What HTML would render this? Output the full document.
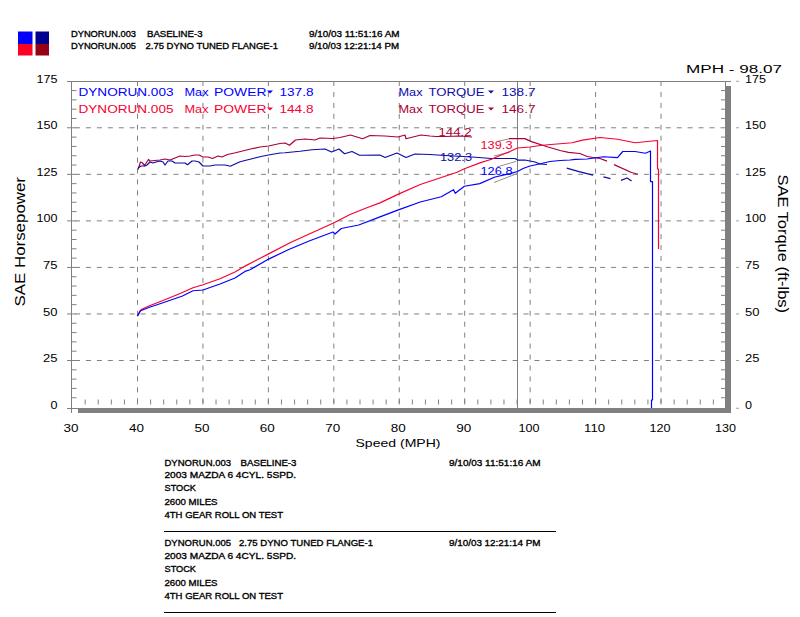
<!DOCTYPE html><html><head><meta charset="utf-8"><style>html,body{margin:0;padding:0;background:#fff;width:800px;height:617px;overflow:hidden}svg{display:block}text{font-family:"Liberation Sans",sans-serif}</style></head><body>
<svg width="800" height="617" viewBox="0 0 800 617">
<rect x="18" y="31.5" width="14.5" height="12.5" fill="#0000ff"/>
<rect x="18" y="44" width="14.5" height="11.5" fill="#ff0022"/>
<rect x="35.5" y="31.5" width="13.5" height="12.5" fill="#000090"/>
<rect x="35.5" y="44" width="13.5" height="11.5" fill="#960014"/>
<text x="71" y="37" font-size="9.4" fill="#000" stroke="#000" stroke-width="0.35" textLength="65" lengthAdjust="spacingAndGlyphs" >DYNORUN.003</text>
<text x="147" y="37" font-size="9.4" fill="#000" stroke="#000" stroke-width="0.35" textLength="55.5" lengthAdjust="spacingAndGlyphs" >BASELINE-3</text>
<text x="71" y="49" font-size="9.4" fill="#000" stroke="#000" stroke-width="0.35" textLength="65" lengthAdjust="spacingAndGlyphs" >DYNORUN.005</text>
<text x="145.5" y="49" font-size="9.4" fill="#000" stroke="#000" stroke-width="0.35" textLength="132.5" lengthAdjust="spacingAndGlyphs" >2.75 DYNO TUNED FLANGE-1</text>
<text x="309" y="37" font-size="9.4" fill="#000" stroke="#000" stroke-width="0.35" textLength="90.5" lengthAdjust="spacingAndGlyphs" >9/10/03 11:51:16 AM</text>
<text x="309" y="49" font-size="9.4" fill="#000" stroke="#000" stroke-width="0.35" textLength="90" lengthAdjust="spacingAndGlyphs" >9/10/03 12:21:14 PM</text>
<line x1="75" y1="360.5" x2="725" y2="360.5" stroke="#808080" stroke-width="1" stroke-dasharray="5 5.94"/>
<line x1="67" y1="360.5" x2="76" y2="360.5" stroke="#808080" stroke-width="1"/>
<line x1="75" y1="313.96" x2="725" y2="313.96" stroke="#808080" stroke-width="1" stroke-dasharray="5 5.94"/>
<line x1="67" y1="313.96" x2="76" y2="313.96" stroke="#808080" stroke-width="1"/>
<line x1="75" y1="267.42" x2="725" y2="267.42" stroke="#808080" stroke-width="1" stroke-dasharray="5 5.94"/>
<line x1="67" y1="267.42" x2="76" y2="267.42" stroke="#808080" stroke-width="1"/>
<line x1="75" y1="220.88" x2="725" y2="220.88" stroke="#808080" stroke-width="1" stroke-dasharray="5 5.94"/>
<line x1="67" y1="220.88" x2="76" y2="220.88" stroke="#808080" stroke-width="1"/>
<line x1="75" y1="174.33" x2="725" y2="174.33" stroke="#808080" stroke-width="1" stroke-dasharray="5 5.94"/>
<line x1="67" y1="174.33" x2="76" y2="174.33" stroke="#808080" stroke-width="1"/>
<line x1="75" y1="127.79" x2="725" y2="127.79" stroke="#808080" stroke-width="1" stroke-dasharray="5 5.94"/>
<line x1="67" y1="127.79" x2="76" y2="127.79" stroke="#808080" stroke-width="1"/>
<line x1="137.5" y1="81" x2="137.5" y2="408" stroke="#808080" stroke-width="1" stroke-dasharray="5 5.94"/>
<line x1="202.94" y1="81" x2="202.94" y2="408" stroke="#808080" stroke-width="1" stroke-dasharray="5 5.94"/>
<line x1="268.38" y1="81" x2="268.38" y2="408" stroke="#808080" stroke-width="1" stroke-dasharray="5 5.94"/>
<line x1="333.82" y1="81" x2="333.82" y2="408" stroke="#808080" stroke-width="1" stroke-dasharray="5 5.94"/>
<line x1="399.26" y1="81" x2="399.26" y2="408" stroke="#808080" stroke-width="1" stroke-dasharray="5 5.94"/>
<line x1="464.7" y1="81" x2="464.7" y2="408" stroke="#808080" stroke-width="1" stroke-dasharray="5 5.94"/>
<line x1="530.14" y1="81" x2="530.14" y2="408" stroke="#808080" stroke-width="1" stroke-dasharray="5 5.94"/>
<line x1="595.58" y1="81" x2="595.58" y2="408" stroke="#808080" stroke-width="1" stroke-dasharray="5 5.94"/>
<line x1="661.02" y1="81" x2="661.02" y2="408" stroke="#808080" stroke-width="1" stroke-dasharray="5 5.94"/>
<line x1="67" y1="81.5" x2="731" y2="81.5" stroke="#808080" stroke-width="1"/>
<line x1="71.5" y1="81" x2="71.5" y2="413" stroke="#808080" stroke-width="1"/>
<line x1="725.5" y1="81" x2="725.5" y2="87" stroke="#808080" stroke-width="1"/>
<rect x="725" y="86" width="6" height="327" fill="#808080"/>
<rect x="78" y="408" width="653" height="5" fill="#808080"/>
<line x1="67" y1="408.5" x2="78" y2="408.5" stroke="#808080" stroke-width="1"/>
<line x1="72" y1="397.74" x2="76.5" y2="397.74" stroke="#808080"/>
<line x1="721" y1="397.74" x2="725" y2="397.74" stroke="#808080"/>
<line x1="72" y1="388.43" x2="76.5" y2="388.43" stroke="#808080"/>
<line x1="721" y1="388.43" x2="725" y2="388.43" stroke="#808080"/>
<line x1="72" y1="379.12" x2="76.5" y2="379.12" stroke="#808080"/>
<line x1="721" y1="379.12" x2="725" y2="379.12" stroke="#808080"/>
<line x1="72" y1="369.81" x2="76.5" y2="369.81" stroke="#808080"/>
<line x1="721" y1="369.81" x2="725" y2="369.81" stroke="#808080"/>
<line x1="72" y1="351.2" x2="76.5" y2="351.2" stroke="#808080"/>
<line x1="721" y1="351.2" x2="725" y2="351.2" stroke="#808080"/>
<line x1="72" y1="341.89" x2="76.5" y2="341.89" stroke="#808080"/>
<line x1="721" y1="341.89" x2="725" y2="341.89" stroke="#808080"/>
<line x1="72" y1="332.58" x2="76.5" y2="332.58" stroke="#808080"/>
<line x1="721" y1="332.58" x2="725" y2="332.58" stroke="#808080"/>
<line x1="72" y1="323.27" x2="76.5" y2="323.27" stroke="#808080"/>
<line x1="721" y1="323.27" x2="725" y2="323.27" stroke="#808080"/>
<line x1="72" y1="304.65" x2="76.5" y2="304.65" stroke="#808080"/>
<line x1="721" y1="304.65" x2="725" y2="304.65" stroke="#808080"/>
<line x1="72" y1="295.35" x2="76.5" y2="295.35" stroke="#808080"/>
<line x1="721" y1="295.35" x2="725" y2="295.35" stroke="#808080"/>
<line x1="72" y1="286.04" x2="76.5" y2="286.04" stroke="#808080"/>
<line x1="721" y1="286.04" x2="725" y2="286.04" stroke="#808080"/>
<line x1="72" y1="276.73" x2="76.5" y2="276.73" stroke="#808080"/>
<line x1="721" y1="276.73" x2="725" y2="276.73" stroke="#808080"/>
<line x1="72" y1="258.11" x2="76.5" y2="258.11" stroke="#808080"/>
<line x1="721" y1="258.11" x2="725" y2="258.11" stroke="#808080"/>
<line x1="72" y1="248.8" x2="76.5" y2="248.8" stroke="#808080"/>
<line x1="721" y1="248.8" x2="725" y2="248.8" stroke="#808080"/>
<line x1="72" y1="239.49" x2="76.5" y2="239.49" stroke="#808080"/>
<line x1="721" y1="239.49" x2="725" y2="239.49" stroke="#808080"/>
<line x1="72" y1="230.19" x2="76.5" y2="230.19" stroke="#808080"/>
<line x1="721" y1="230.19" x2="725" y2="230.19" stroke="#808080"/>
<line x1="72" y1="211.57" x2="76.5" y2="211.57" stroke="#808080"/>
<line x1="721" y1="211.57" x2="725" y2="211.57" stroke="#808080"/>
<line x1="72" y1="202.26" x2="76.5" y2="202.26" stroke="#808080"/>
<line x1="721" y1="202.26" x2="725" y2="202.26" stroke="#808080"/>
<line x1="72" y1="192.95" x2="76.5" y2="192.95" stroke="#808080"/>
<line x1="721" y1="192.95" x2="725" y2="192.95" stroke="#808080"/>
<line x1="72" y1="183.64" x2="76.5" y2="183.64" stroke="#808080"/>
<line x1="721" y1="183.64" x2="725" y2="183.64" stroke="#808080"/>
<line x1="72" y1="165.03" x2="76.5" y2="165.03" stroke="#808080"/>
<line x1="721" y1="165.03" x2="725" y2="165.03" stroke="#808080"/>
<line x1="72" y1="155.72" x2="76.5" y2="155.72" stroke="#808080"/>
<line x1="721" y1="155.72" x2="725" y2="155.72" stroke="#808080"/>
<line x1="72" y1="146.41" x2="76.5" y2="146.41" stroke="#808080"/>
<line x1="721" y1="146.41" x2="725" y2="146.41" stroke="#808080"/>
<line x1="72" y1="137.1" x2="76.5" y2="137.1" stroke="#808080"/>
<line x1="721" y1="137.1" x2="725" y2="137.1" stroke="#808080"/>
<line x1="72" y1="118.48" x2="76.5" y2="118.48" stroke="#808080"/>
<line x1="721" y1="118.48" x2="725" y2="118.48" stroke="#808080"/>
<line x1="72" y1="109.18" x2="76.5" y2="109.18" stroke="#808080"/>
<line x1="721" y1="109.18" x2="725" y2="109.18" stroke="#808080"/>
<line x1="72" y1="99.87" x2="76.5" y2="99.87" stroke="#808080"/>
<line x1="721" y1="99.87" x2="725" y2="99.87" stroke="#808080"/>
<line x1="72" y1="90.56" x2="76.5" y2="90.56" stroke="#808080"/>
<line x1="721" y1="90.56" x2="725" y2="90.56" stroke="#808080"/>
<line x1="85.15" y1="399.5" x2="85.15" y2="404.5" stroke="#808080"/>
<line x1="98.24" y1="399.5" x2="98.24" y2="404.5" stroke="#808080"/>
<line x1="111.32" y1="399.5" x2="111.32" y2="404.5" stroke="#808080"/>
<line x1="124.41" y1="399.5" x2="124.41" y2="404.5" stroke="#808080"/>
<line x1="137.5" y1="399.5" x2="137.5" y2="404.5" stroke="#808080"/>
<line x1="150.59" y1="399.5" x2="150.59" y2="404.5" stroke="#808080"/>
<line x1="163.68" y1="399.5" x2="163.68" y2="404.5" stroke="#808080"/>
<line x1="176.76" y1="399.5" x2="176.76" y2="404.5" stroke="#808080"/>
<line x1="189.85" y1="399.5" x2="189.85" y2="404.5" stroke="#808080"/>
<line x1="202.94" y1="399.5" x2="202.94" y2="404.5" stroke="#808080"/>
<line x1="216.03" y1="399.5" x2="216.03" y2="404.5" stroke="#808080"/>
<line x1="229.12" y1="399.5" x2="229.12" y2="404.5" stroke="#808080"/>
<line x1="242.2" y1="399.5" x2="242.2" y2="404.5" stroke="#808080"/>
<line x1="255.29" y1="399.5" x2="255.29" y2="404.5" stroke="#808080"/>
<line x1="268.38" y1="399.5" x2="268.38" y2="404.5" stroke="#808080"/>
<line x1="281.47" y1="399.5" x2="281.47" y2="404.5" stroke="#808080"/>
<line x1="294.56" y1="399.5" x2="294.56" y2="404.5" stroke="#808080"/>
<line x1="307.64" y1="399.5" x2="307.64" y2="404.5" stroke="#808080"/>
<line x1="320.73" y1="399.5" x2="320.73" y2="404.5" stroke="#808080"/>
<line x1="333.82" y1="399.5" x2="333.82" y2="404.5" stroke="#808080"/>
<line x1="346.91" y1="399.5" x2="346.91" y2="404.5" stroke="#808080"/>
<line x1="360.0" y1="399.5" x2="360.0" y2="404.5" stroke="#808080"/>
<line x1="373.08" y1="399.5" x2="373.08" y2="404.5" stroke="#808080"/>
<line x1="386.17" y1="399.5" x2="386.17" y2="404.5" stroke="#808080"/>
<line x1="399.26" y1="399.5" x2="399.26" y2="404.5" stroke="#808080"/>
<line x1="412.35" y1="399.5" x2="412.35" y2="404.5" stroke="#808080"/>
<line x1="425.44" y1="399.5" x2="425.44" y2="404.5" stroke="#808080"/>
<line x1="438.52" y1="399.5" x2="438.52" y2="404.5" stroke="#808080"/>
<line x1="451.61" y1="399.5" x2="451.61" y2="404.5" stroke="#808080"/>
<line x1="464.7" y1="399.5" x2="464.7" y2="404.5" stroke="#808080"/>
<line x1="477.79" y1="399.5" x2="477.79" y2="404.5" stroke="#808080"/>
<line x1="490.88" y1="399.5" x2="490.88" y2="404.5" stroke="#808080"/>
<line x1="503.96" y1="399.5" x2="503.96" y2="404.5" stroke="#808080"/>
<line x1="517.05" y1="399.5" x2="517.05" y2="404.5" stroke="#808080"/>
<line x1="530.14" y1="399.5" x2="530.14" y2="404.5" stroke="#808080"/>
<line x1="543.23" y1="399.5" x2="543.23" y2="404.5" stroke="#808080"/>
<line x1="556.32" y1="399.5" x2="556.32" y2="404.5" stroke="#808080"/>
<line x1="569.4" y1="399.5" x2="569.4" y2="404.5" stroke="#808080"/>
<line x1="582.49" y1="399.5" x2="582.49" y2="404.5" stroke="#808080"/>
<line x1="595.58" y1="399.5" x2="595.58" y2="404.5" stroke="#808080"/>
<line x1="608.67" y1="399.5" x2="608.67" y2="404.5" stroke="#808080"/>
<line x1="621.76" y1="399.5" x2="621.76" y2="404.5" stroke="#808080"/>
<line x1="634.84" y1="399.5" x2="634.84" y2="404.5" stroke="#808080"/>
<line x1="647.93" y1="399.5" x2="647.93" y2="404.5" stroke="#808080"/>
<line x1="661.02" y1="399.5" x2="661.02" y2="404.5" stroke="#808080"/>
<line x1="674.11" y1="399.5" x2="674.11" y2="404.5" stroke="#808080"/>
<line x1="687.2" y1="399.5" x2="687.2" y2="404.5" stroke="#808080"/>
<line x1="700.28" y1="399.5" x2="700.28" y2="404.5" stroke="#808080"/>
<line x1="713.37" y1="399.5" x2="713.37" y2="404.5" stroke="#808080"/>
<text x="50.5" y="409" font-size="11" fill="#000" textLength="7" lengthAdjust="spacingAndGlyphs" >0</text>
<text x="745" y="409" font-size="11" fill="#000" textLength="7" lengthAdjust="spacingAndGlyphs" >0</text>
<line x1="736" y1="408.25" x2="739" y2="408.25" stroke="#a0a0a0"/>
<text x="43.0" y="362.105" font-size="11" fill="#000" textLength="14.5" lengthAdjust="spacingAndGlyphs" >25</text>
<text x="745" y="362.105" font-size="11" fill="#000" textLength="14.5" lengthAdjust="spacingAndGlyphs" >25</text>
<line x1="736" y1="360.5" x2="739" y2="360.5" stroke="#a0a0a0"/>
<text x="43.0" y="315.5625" font-size="11" fill="#000" textLength="14.5" lengthAdjust="spacingAndGlyphs" >50</text>
<text x="745" y="315.5625" font-size="11" fill="#000" textLength="14.5" lengthAdjust="spacingAndGlyphs" >50</text>
<line x1="736" y1="313.96" x2="739" y2="313.96" stroke="#a0a0a0"/>
<text x="43.0" y="269.02" font-size="11" fill="#000" textLength="14.5" lengthAdjust="spacingAndGlyphs" >75</text>
<text x="745" y="269.02" font-size="11" fill="#000" textLength="14.5" lengthAdjust="spacingAndGlyphs" >75</text>
<line x1="736" y1="267.42" x2="739" y2="267.42" stroke="#a0a0a0"/>
<text x="36.5" y="222.4775" font-size="11" fill="#000" textLength="21" lengthAdjust="spacingAndGlyphs" >100</text>
<text x="745" y="222.4775" font-size="11" fill="#000" textLength="21" lengthAdjust="spacingAndGlyphs" >100</text>
<line x1="736" y1="220.88" x2="739" y2="220.88" stroke="#a0a0a0"/>
<text x="36.5" y="175.93499999999997" font-size="11" fill="#000" textLength="21" lengthAdjust="spacingAndGlyphs" >125</text>
<text x="745" y="175.93499999999997" font-size="11" fill="#000" textLength="21" lengthAdjust="spacingAndGlyphs" >125</text>
<line x1="736" y1="174.33" x2="739" y2="174.33" stroke="#a0a0a0"/>
<text x="36.5" y="129.39249999999998" font-size="11" fill="#000" textLength="21" lengthAdjust="spacingAndGlyphs" >150</text>
<text x="745" y="129.39249999999998" font-size="11" fill="#000" textLength="21" lengthAdjust="spacingAndGlyphs" >150</text>
<line x1="736" y1="127.79" x2="739" y2="127.79" stroke="#a0a0a0"/>
<text x="36.5" y="82.85" font-size="11" fill="#000" textLength="21" lengthAdjust="spacingAndGlyphs" >175</text>
<text x="745" y="82.85" font-size="11" fill="#000" textLength="21" lengthAdjust="spacingAndGlyphs" >175</text>
<line x1="736" y1="81.25" x2="739" y2="81.25" stroke="#a0a0a0"/>
<text x="63.56" y="432" font-size="11" fill="#000" textLength="15" lengthAdjust="spacingAndGlyphs" >30</text>
<text x="129.0" y="432" font-size="11" fill="#000" textLength="15" lengthAdjust="spacingAndGlyphs" >40</text>
<text x="194.44" y="432" font-size="11" fill="#000" textLength="15" lengthAdjust="spacingAndGlyphs" >50</text>
<text x="259.88" y="432" font-size="11" fill="#000" textLength="15" lengthAdjust="spacingAndGlyphs" >60</text>
<text x="325.32" y="432" font-size="11" fill="#000" textLength="15" lengthAdjust="spacingAndGlyphs" >70</text>
<text x="390.76" y="432" font-size="11" fill="#000" textLength="15" lengthAdjust="spacingAndGlyphs" >80</text>
<text x="456.2" y="432" font-size="11" fill="#000" textLength="15" lengthAdjust="spacingAndGlyphs" >90</text>
<text x="518.64" y="432" font-size="11" fill="#000" textLength="21" lengthAdjust="spacingAndGlyphs" >100</text>
<text x="584.0799999999999" y="432" font-size="11" fill="#000" textLength="21" lengthAdjust="spacingAndGlyphs" >110</text>
<text x="649.52" y="432" font-size="11" fill="#000" textLength="21" lengthAdjust="spacingAndGlyphs" >120</text>
<text x="714.9599999999999" y="432" font-size="11" fill="#000" textLength="21" lengthAdjust="spacingAndGlyphs" >130</text>
<text x="686" y="72.5" font-size="10" fill="#000" textLength="96" lengthAdjust="spacingAndGlyphs" >MPH - 98.07</text>
<text x="355.5" y="447" font-size="11" fill="#000" textLength="85" lengthAdjust="spacingAndGlyphs" >Speed (MPH)</text>
<text transform="translate(25,306.5) rotate(-90)" font-size="14" fill="#000" textLength="129.5" lengthAdjust="spacingAndGlyphs">SAE Horsepower</text>
<text transform="translate(778,174.5) rotate(90)" font-size="14" fill="#000" textLength="138.5" lengthAdjust="spacingAndGlyphs">SAE Torque (ft-lbs)</text>
<line x1="517.5" y1="82" x2="517.5" y2="408" stroke="#808080" stroke-width="1"/>
<line x1="498" y1="141.3" x2="510" y2="138.6" stroke="#909090" stroke-width="1"/>
<line x1="494" y1="156" x2="510" y2="152" stroke="#909090" stroke-width="1"/>
<line x1="497" y1="167" x2="516" y2="161.4" stroke="#909090" stroke-width="1"/>
<line x1="494" y1="182.5" x2="517" y2="173.6" stroke="#909090" stroke-width="1"/>
<polyline points="138,169.5 140.5,162 142,162.5 144.5,165.5 148.5,159.5 150,161 155,160.5 160,160 165,159 170,160 175,158 180,156 185,156.5 190,156 195,155 199,155 203,157 208,157 212.5,158.5 218,156 222,157 227.5,154.5 235.5,152.75 250.5,149 260,147 268.5,146 280,143.5 285,143 289.5,145.25 295.5,140 305,139 315,140 320,138 333,138.5 340,137.5 350.5,135 362.5,138.75 370,135.5 385,136 398,137 405,135 406,138.75 421,135 430,136 436,136.5 445,136.5 460,136 472,137" fill="none" stroke="#aa0034" stroke-width="1.2" stroke-linejoin="round"/>
<polyline points="509,138.6 524.75,138.6 531.5,141.6 548,147 560,150.5 568.5,152.4 580,153.5 587,156.5 600,158.5 607,161.1" fill="none" stroke="#aa0034" stroke-width="1.2" stroke-linejoin="round"/>
<polyline points="614,164.6 631.5,172.5 638,174.25" fill="none" stroke="#aa0034" stroke-width="1.2" stroke-linejoin="round"/>
<polyline points="138,168 141,166 145,166 147,165 150,162 153,163 156,162 160,161 163,162 165,165 168,161 172,161 175,163 185,163 187.5,164.75 192,161 195,161 199,162 203,166 210,166 215,165 220,165 225,165 230.25,166.25 240,161.75 255,158 261,156.5 268.5,155 280,153 285,152.75 300,151.25 312,149.75 325,149 331.5,152 339,149 344.5,153.75 352,151.5 359.5,155.25 380,155 385,157.5 397,153 406,157.5 415,154 430,154.5 445,155.5 472,157 491.5,158.5 515,158.5 517.5,160.1 525,160 530,161 535,162 540,164 547,164.5" fill="none" stroke="#0c0ca8" stroke-width="1.2" stroke-linejoin="round"/>
<polyline points="566.75,168.1 579,171.6 593,175.1" fill="none" stroke="#0c0ca8" stroke-width="1.2" stroke-linejoin="round"/>
<polyline points="603.5,176.9 610.5,178.6" fill="none" stroke="#0c0ca8" stroke-width="1.2" stroke-linejoin="round"/>
<polyline points="621,180.4 627,178 631.6,181" fill="none" stroke="#0c0ca8" stroke-width="1.2" stroke-linejoin="round"/>
<polyline points="137.5,316.25 141.25,309.5 149.5,305.75 163,300.5 179.5,293.75 193,287.75 203,284.75 220,278.75 235,272 245,266.1 268.6,253.9 290.5,242.5 309.75,233.75 333,223.25 350,214.5 367.5,207.5 380,202.9 398.4,194.1 420.25,184.5 441.25,177.5 457,172.25 464.4,168.75 480.6,162.6 491.5,159.3 500,155.5 510,151.5 517.5,148 530,147 540,145.5 551,144.5 572,142.75 582.5,140.1 600,137.5 617.5,139.25 635,142.75 657.5,140.5 657.5,169 658.5,169 658.5,249" fill="none" stroke="#f80030" stroke-width="1.2" stroke-linejoin="round"/>
<polyline points="137.5,316 140,311 149.5,307.25 163,302.75 182.5,296 193,290.75 203,290 220,284 235,278 245,271.4 250,269.75 268.6,259.1 288.75,249.5 309.75,240.75 333,232 335,234 341.25,228.5 358.75,225 380,216.9 398.4,209.9 420.25,202 441.25,196.75 453.5,189.75 455.25,193.25 464.4,186.25 479.75,183.6 495,177 510,173.6 517.5,171.5 523,168.5 530,166 537,164.5 550,161.5 560,160.5 570,160 575.5,159.4 587,159 603.5,156.75 617.5,157.6 622.75,151.5 635,151.5 645.5,153.25 650.5,151 650.5,181.6 652.5,181.6 652.5,400 651.5,400 651.5,408" fill="none" stroke="#0000ff" stroke-width="1.2" stroke-linejoin="round"/>
<text x="438.5" y="136" font-size="10.5" fill="#aa0034" textLength="33" lengthAdjust="spacingAndGlyphs" >144.2</text>
<text x="480.5" y="148.5" font-size="10.5" fill="#f80030" textLength="32" lengthAdjust="spacingAndGlyphs" >139.3</text>
<text x="440" y="160.5" font-size="10.5" fill="#0c0ca8" textLength="32" lengthAdjust="spacingAndGlyphs" >132.3</text>
<text x="480.5" y="175" font-size="10.5" fill="#0000ff" textLength="32" lengthAdjust="spacingAndGlyphs" >126.8</text>
<text x="78.5" y="96" font-size="11" fill="#0000ff" textLength="95" lengthAdjust="spacingAndGlyphs" >DYNORUN.003</text>
<text x="184.5" y="96" font-size="11" fill="#0000ff" textLength="24" lengthAdjust="spacingAndGlyphs" >Max</text>
<text x="214" y="96" font-size="11" fill="#0000ff" textLength="52.5" lengthAdjust="spacingAndGlyphs" >POWER</text>
<polygon points="267,90.5 273,90.5 270,93.5" fill="#0000ff"/>
<text x="279.5" y="96" font-size="11" fill="#0000ff" textLength="34" lengthAdjust="spacingAndGlyphs" >137.8</text>
<text x="398.5" y="96" font-size="11" fill="#0c0ca8" textLength="24" lengthAdjust="spacingAndGlyphs" >Max</text>
<text x="428.5" y="96" font-size="11" fill="#0c0ca8" textLength="56" lengthAdjust="spacingAndGlyphs" >TORQUE</text>
<polygon points="488,90.5 494,90.5 491,93.5" fill="#0c0ca8"/>
<text x="501.5" y="96" font-size="11" fill="#0c0ca8" textLength="34" lengthAdjust="spacingAndGlyphs" >138.7</text>
<text x="78.5" y="113" font-size="11" fill="#f80030" textLength="95" lengthAdjust="spacingAndGlyphs" >DYNORUN.005</text>
<text x="184.5" y="113" font-size="11" fill="#f80030" textLength="24" lengthAdjust="spacingAndGlyphs" >Max</text>
<text x="214" y="113" font-size="11" fill="#f80030" textLength="52.5" lengthAdjust="spacingAndGlyphs" >POWER</text>
<polygon points="267,107.5 273,107.5 270,110.5" fill="#f80030"/>
<text x="279.5" y="113" font-size="11" fill="#f80030" textLength="34" lengthAdjust="spacingAndGlyphs" >144.8</text>
<text x="398.5" y="113" font-size="11" fill="#aa0034" textLength="24" lengthAdjust="spacingAndGlyphs" >Max</text>
<text x="428.5" y="113" font-size="11" fill="#aa0034" textLength="56" lengthAdjust="spacingAndGlyphs" >TORQUE</text>
<polygon points="488,107.5 494,107.5 491,110.5" fill="#aa0034"/>
<text x="501.5" y="113" font-size="11" fill="#aa0034" textLength="34" lengthAdjust="spacingAndGlyphs" >146.7</text>
<text x="164.5" y="465.6" font-size="9.4" fill="#000" stroke="#000" stroke-width="0.35" textLength="66.5" lengthAdjust="spacingAndGlyphs" >DYNORUN.003</text>
<text x="240.5" y="465.6" font-size="9.4" fill="#000" stroke="#000" stroke-width="0.35" textLength="56" lengthAdjust="spacingAndGlyphs" >BASELINE-3</text>
<text x="449" y="465.6" font-size="9.4" fill="#000" stroke="#000" stroke-width="0.35" textLength="91.5" lengthAdjust="spacingAndGlyphs" >9/10/03 11:51:16 AM</text>
<text x="164.5" y="478.1" font-size="9.4" fill="#000" stroke="#000" stroke-width="0.35" textLength="131.5" lengthAdjust="spacingAndGlyphs" >2003 MAZDA 6 4CYL. 5SPD.</text>
<text x="164.5" y="491.20000000000005" font-size="9.4" fill="#000" stroke="#000" stroke-width="0.35" textLength="31.5" lengthAdjust="spacingAndGlyphs" >STOCK</text>
<text x="164.5" y="505.1" font-size="9.4" fill="#000" stroke="#000" stroke-width="0.35" textLength="53" lengthAdjust="spacingAndGlyphs" >2600 MILES</text>
<text x="164.5" y="518.3000000000001" font-size="9.4" fill="#000" stroke="#000" stroke-width="0.35" textLength="118.5" lengthAdjust="spacingAndGlyphs" >4TH GEAR ROLL ON TEST</text>
<text x="164.5" y="546" font-size="9.4" fill="#000" stroke="#000" stroke-width="0.35" textLength="66.5" lengthAdjust="spacingAndGlyphs" >DYNORUN.005</text>
<text x="239" y="546" font-size="9.4" fill="#000" stroke="#000" stroke-width="0.35" textLength="134" lengthAdjust="spacingAndGlyphs" >2.75 DYNO TUNED FLANGE-1</text>
<text x="449" y="546" font-size="9.4" fill="#000" stroke="#000" stroke-width="0.35" textLength="91.5" lengthAdjust="spacingAndGlyphs" >9/10/03 12:21:14 PM</text>
<text x="164.5" y="558.5" font-size="9.4" fill="#000" stroke="#000" stroke-width="0.35" textLength="131.5" lengthAdjust="spacingAndGlyphs" >2003 MAZDA 6 4CYL. 5SPD.</text>
<text x="164.5" y="571.6" font-size="9.4" fill="#000" stroke="#000" stroke-width="0.35" textLength="31.5" lengthAdjust="spacingAndGlyphs" >STOCK</text>
<text x="164.5" y="585.5" font-size="9.4" fill="#000" stroke="#000" stroke-width="0.35" textLength="53" lengthAdjust="spacingAndGlyphs" >2600 MILES</text>
<text x="164.5" y="598.7" font-size="9.4" fill="#000" stroke="#000" stroke-width="0.35" textLength="118.5" lengthAdjust="spacingAndGlyphs" >4TH GEAR ROLL ON TEST</text>
<line x1="164" y1="531.5" x2="556" y2="531.5" stroke="#000" stroke-width="1"/>
<line x1="164" y1="612.5" x2="556" y2="612.5" stroke="#000" stroke-width="1"/>
</svg></body></html>
